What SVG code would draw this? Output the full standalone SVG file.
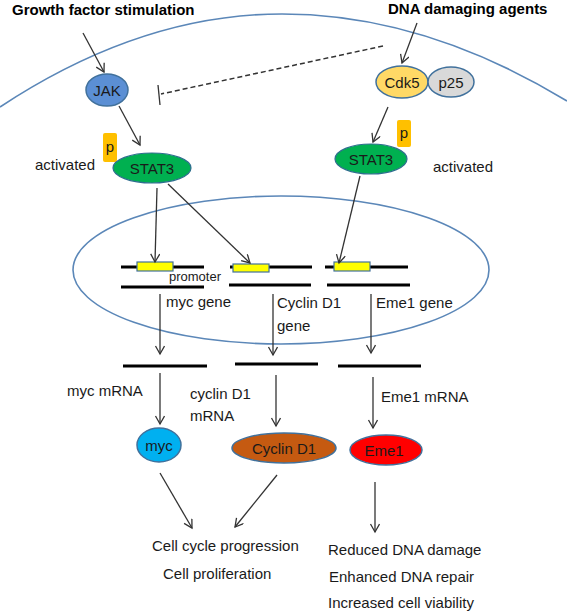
<svg xmlns="http://www.w3.org/2000/svg" width="567" height="611" viewBox="0 0 567 611">
<style>
text{font-family:"Liberation Sans",Arial,sans-serif;font-size:15px;fill:#1a1a1a}
.b{font-weight:bold;fill:#000}
.sm{font-size:13px}
.mem{fill:none;stroke:#5b87b8;stroke-width:1.6}
.node{stroke:#41719c;stroke-width:1.5}
.dna{stroke:#000;stroke-width:3.2}
.prom{fill:#ffff00;stroke:#41719c;stroke-width:1.2}
.pbox{fill:#ffc000}
.c{fill:none;stroke:#333;stroke-width:1.3;marker-end:url(#ah)}
.c0{fill:none;stroke:#333;stroke-width:1.3}
</style>
<defs>
<marker id="ah" markerWidth="12" markerHeight="12" refX="9" refY="5" orient="auto" markerUnits="userSpaceOnUse">
<path d="M1,0.5 L9,5 L1,9.5" fill="none" stroke="#333" stroke-width="1.3"/>
</marker>
</defs>
<rect width="567" height="611" fill="#fff"/>
<g id="membrane">
<path class="mem" d="M0,107 Q141,14 282,14 Q424,14 567,101"/>
</g>
<g id="nucleus">
<ellipse class="mem" cx="281" cy="270" rx="208" ry="74"/>
</g>
<g id="labels-top">
<text class="b" x="12" y="15">Growth factor stimulation</text>
<text class="b" x="388" y="14">DNA damaging agents</text>
</g>
<g id="jak">
<ellipse class="node" cx="107" cy="90" rx="21" ry="16" fill="#5b8fd4"/>
<text x="107" y="95.5" text-anchor="middle">JAK</text>
</g>
<g id="cdk5">
<ellipse class="node" cx="402" cy="82" rx="26" ry="16" fill="#ffd966"/>
<text x="402" y="87.5" text-anchor="middle">Cdk5</text>
</g>
<g id="p25">
<ellipse class="node" cx="451" cy="82" rx="23" ry="15" fill="#d9d9d9"/>
<text x="451" y="87.5" text-anchor="middle">p25</text>
</g>
<g id="stat3-left">
<rect class="pbox" x="103" y="133" width="14" height="29" rx="2"/>
<text x="110" y="152" text-anchor="middle">p</text>
<ellipse cx="152" cy="168" rx="39" ry="15" fill="#00b050" stroke="#2e6e8e" stroke-width="1.2"/>
<text x="152" y="173.5" text-anchor="middle">STAT3</text>
<text x="35" y="170">activated</text>
</g>
<g id="stat3-right">
<rect class="pbox" x="397" y="120" width="14" height="27" rx="2"/>
<text x="404" y="138" text-anchor="middle">p</text>
<ellipse cx="371" cy="159" rx="36" ry="15" fill="#00b050" stroke="#2e6e8e" stroke-width="1.2"/>
<text x="371" y="164.5" text-anchor="middle">STAT3</text>
<text x="433" y="172">activated</text>
</g>
<g id="myc-gene">
<line class="dna" x1="121" y1="267" x2="204" y2="267"/>
<line class="dna" x1="121" y1="287" x2="204" y2="287"/>
<rect class="prom" x="137" y="262" width="36" height="9"/>
<text class="sm" x="169" y="281">promoter</text>
<text x="166" y="307">myc gene</text>
</g>
<g id="cyclin-gene">
<line class="dna" x1="230" y1="267" x2="312" y2="267"/>
<line class="dna" x1="229" y1="285" x2="311" y2="285"/>
<rect class="prom" x="233" y="264" width="36" height="8"/>
<text x="277" y="308">Cyclin D1</text>
<text x="277" y="331">gene</text>
</g>
<g id="eme1-gene">
<line class="dna" x1="325" y1="267" x2="408" y2="267"/>
<line class="dna" x1="327" y1="285" x2="410" y2="285"/>
<rect class="prom" x="334" y="262" width="36" height="9"/>
<text x="376" y="308">Eme1 gene</text>
</g>
<g id="myc-mrna">
<line class="dna" x1="123" y1="366" x2="207" y2="366"/>
<text x="67" y="396">myc mRNA</text>
</g>
<g id="cyclin-mrna">
<line class="dna" x1="235" y1="364" x2="318" y2="364"/>
<text x="190" y="399">cyclin D1</text>
<text x="190" y="421">mRNA</text>
</g>
<g id="eme1-mrna">
<line class="dna" x1="338" y1="366" x2="421" y2="366"/>
<text x="381" y="402">Eme1 mRNA</text>
</g>
<g id="myc">
<ellipse class="node" cx="159" cy="445" rx="22" ry="17" fill="#00b0f0"/>
<text x="159" y="450.5" text-anchor="middle">myc</text>
</g>
<g id="cyclin-d1">
<ellipse class="node" cx="284" cy="448" rx="52" ry="15" fill="#c55a11"/>
<text x="284" y="453.5" text-anchor="middle">Cyclin D1</text>
</g>
<g id="eme1">
<ellipse class="node" cx="386" cy="450" rx="36" ry="15" fill="#ff0000"/>
<text x="384" y="455.5" text-anchor="middle">Eme1</text>
</g>
<g id="outcome-left">
<text x="152" y="551">Cell cycle progression</text>
<text x="163" y="579">Cell proliferation</text>
</g>
<g id="outcome-right">
<text x="328" y="555">Reduced DNA damage</text>
<text x="329" y="582">Enhanced DNA repair</text>
<text x="328" y="608">Increased cell viability</text>
</g>
<g id="connectors">
<line class="c" x1="83" y1="33" x2="104" y2="72"/>
<line class="c" x1="119" y1="106" x2="140" y2="145"/>
<line class="c" x1="417" y1="23" x2="402" y2="63"/>
<line class="c" x1="388" y1="107" x2="373" y2="142"/>
<line x1="383" y1="46" x2="161" y2="94" fill="none" stroke="#333" stroke-width="1.5" stroke-dasharray="5,3"/>
<line class="c0" x1="158" y1="85" x2="160" y2="105" stroke-width="1.6"/>
<line class="c" x1="157" y1="188" x2="155" y2="262"/>
<line class="c" x1="168" y1="184" x2="250" y2="263"/>
<line class="c" x1="360" y1="176" x2="339" y2="263"/>
<line class="c" x1="160" y1="294" x2="160" y2="354"/>
<line class="c" x1="273" y1="294" x2="273" y2="355"/>
<line class="c" x1="371" y1="294" x2="371" y2="353"/>
<line class="c" x1="160" y1="373" x2="160" y2="424"/>
<line class="c" x1="276" y1="375" x2="276" y2="426"/>
<line class="c" x1="373" y1="377" x2="373" y2="428"/>
<line class="c" x1="160" y1="473" x2="192" y2="528"/>
<line class="c" x1="277" y1="475" x2="235" y2="527"/>
<line class="c" x1="375" y1="482" x2="375" y2="532"/>
</g>
</svg>
